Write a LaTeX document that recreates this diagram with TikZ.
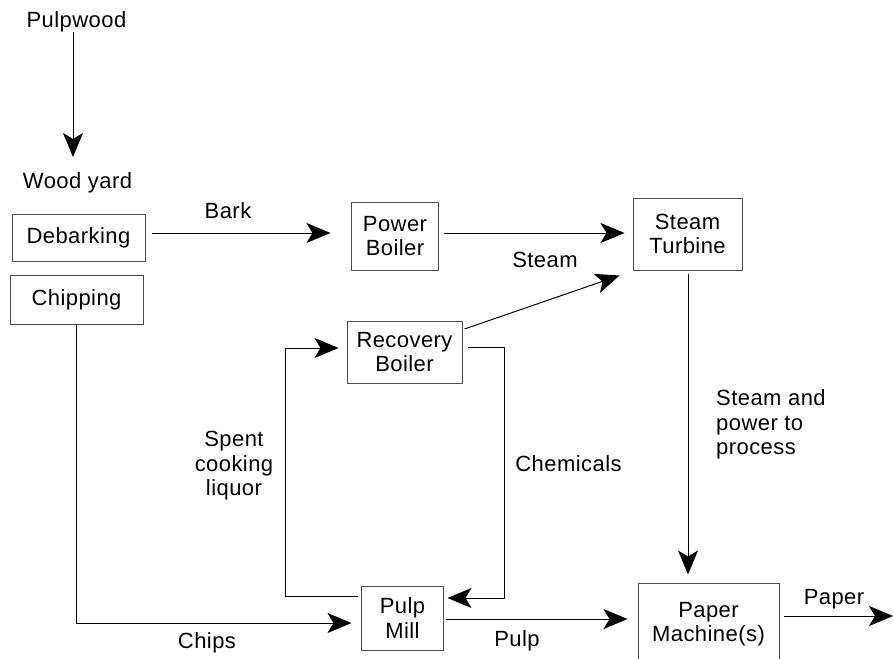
\documentclass[tikz,border=0pt]{standalone}
\usepackage{fontspec}
\setmainfont{Liberation Sans}[LetterSpace=2]
\usetikzlibrary{arrows.meta}
\begin{document}
\begin{tikzpicture}[
        x=1pt,
        y=-1pt,
        font=\fontsize{22}{24.5}\selectfont,
        line join=round,
        box/.style={draw=black!70, line width=1pt, inner sep=0pt, align=center},
        lbl/.style={inner sep=0pt, align=center},
        flow/.style={line width=1pt, -{Stealth[length=24pt, width=20pt, inset=6pt]}}
    ]
        % 画布范围
        \useasboundingbox (0,0) rectangle (893,658);

        % 原料
        \node[lbl] (pulpwood) at (76.5,22) {Pulpwood};
        \node[lbl] (woodyard) at (77.5,182.5) {Wood yard};
        \coordinate (yardin) at (73,157);
        \coordinate (paperout) at (893,616);

        % 各工段的方框
        \node[box, minimum width=133, minimum height=47] (debark) at (78.5,237.5) {Debarking};
        \node[box, minimum width=133, minimum height=49] (chip) at (76.5,299.5) {Chipping};
        \node[box, minimum width=87, minimum height=68] (power) at (395,236) {Power\\Boiler};
        \node[box, minimum width=109, minimum height=72] (turbine) at (687.5,234) {Steam\\Turbine};
        \node[box, minimum width=115, minimum height=62] (recov) at (404.5,352) {Recovery\\Boiler};
        \node[box, minimum width=82, minimum height=64] (pulpmill) at (402.5,618) {Pulp\\Mill};
        \node[box, minimum width=141, minimum height=82] (paper) at (708.5,624) {Paper\\Machine(s)};

        % 物流
        \draw[flow] ([xshift=-3.5pt]pulpwood.south) -- (yardin);
        \draw[flow, shorten <=6pt, shorten >=20.5pt] ([yshift=4.5pt]debark.east) -- ([yshift=3pt]power.west);
        \draw[flow, shorten <=4.5pt, shorten >=8pt] ([yshift=3pt]power.east) -- ([yshift=1pt]turbine.west);
        \draw[flow] ([shift={(2,-23)}]recov.east) -- ([shift={(-13,5)}]turbine.south west);
        \draw[flow] ([shift={(5,-5)}]recov.east) -- ++(37,0) |- ([shift={(3.5,-20)}]pulpmill.east);
        \draw[flow] ([shift={(-3.5,-22)}]pulpmill.west) -- ++(-72,0) |- ([shift={(-8,-4)}]recov.west);
        \draw[flow] (chip.south) |- ([shift={(-9.5,5)}]pulpmill.west);
        \draw[flow] ([shift={(1.5,1)}]pulpmill.east) -- ([shift={(-10,-5)}]paper.west);
        \draw[flow] ([shift={(0.5,3)}]turbine.south) -- ([shift={(-20.5,-8)}]paper.north);
        \draw[flow] ([shift={(4,-8)}]paper.east) -- (paperout);

        % 标签
        \node[lbl] (barklbl) at (228,210.5) {Bark};
        \node[lbl] (steamlbl) at (545,260) {Steam};
        \node[lbl] (chemlbl) at (568.5,464) {Chemicals};
        \node[lbl] (liquorlbl) at (234,466) {Spent\\cooking\\liquor};
        \node[lbl, align=left, anchor=west] (processlbl) at (716,424.5) {Steam and\\power to\\process};
        \node[lbl] (chipslbl) at (207,643) {Chips};
        \node[lbl] (pulplbl) at (517,641) {Pulp};
        \node[lbl] (paperlbl) at (834,599.5) {Paper};
    \end{tikzpicture}
\end{document}
